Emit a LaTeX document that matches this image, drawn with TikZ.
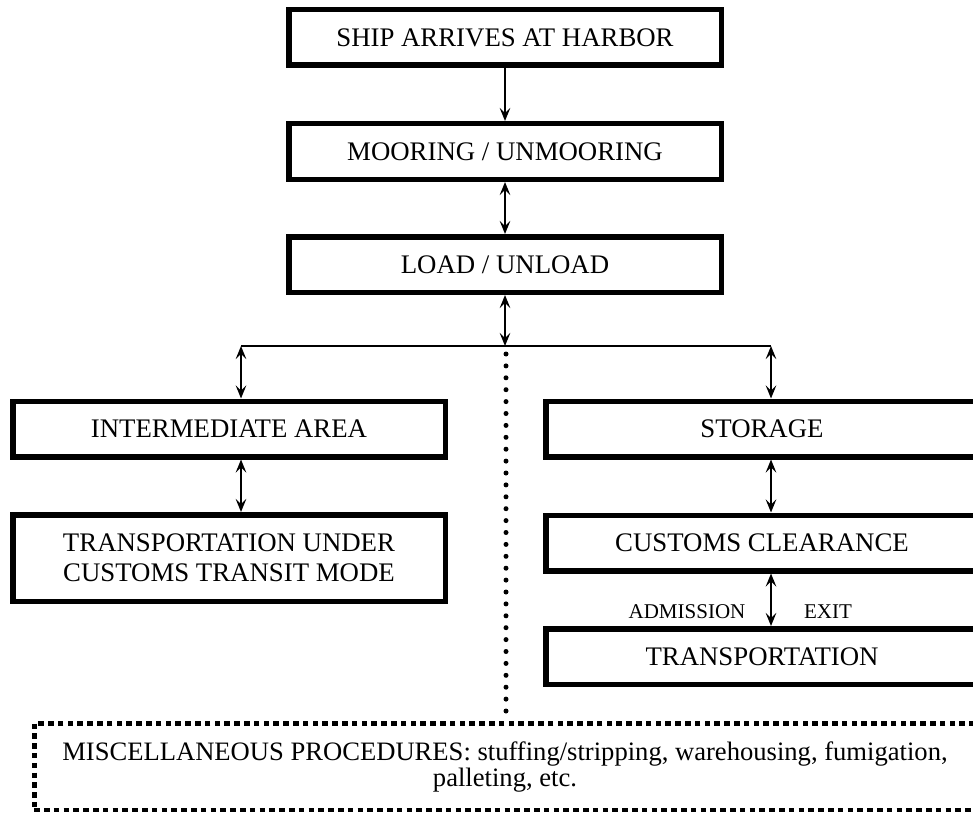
\documentclass[tikz,border=0pt]{standalone}
\usepackage{fontspec}
\setmainfont{Liberation Serif}
\usetikzlibrary{arrows.meta,calc}
\tikzset{tip/.tip={Stealth[length=13pt,width=10.5pt,inset=5pt]}}
\begin{document}
\begin{tikzpicture}[x=1pt,y=-1pt,
  box/.style={draw,line width=5.5pt,minimum width=432.5pt,minimum height=55.5pt,inner sep=0pt,align=center,font=\fontsize{26.8}{30}\selectfont},
  conn/.style={line width=2.8pt,arrows={tip-tip}},
  oneway/.style={line width=2.8pt,arrows={-tip}},
  lbl/.style={font=\fontsize{21}{24}\selectfont,inner sep=0pt}]
\useasboundingbox (0,0) rectangle (973,813);
\clip (0,0) rectangle (973,813);
\node[box] (ship) at (505,37.5) {SHIP ARRIVES AT HARBOR};
\node[box] (moor) at (505,151.5) {MOORING / UNMOORING};
\node[box] (load) at (505,264.5) {LOAD / UNLOAD};
\node[box] (inter) at (229,429) {INTERMEDIATE AREA};
\node[box,minimum height=86.5pt] (trans) at (229,558) {TRANSPORTATION UNDER\\CUSTOMS TRANSIT MODE};
\node[box] (stor) at (762,429) {STORAGE};
\node[box] (cust) at (762,543) {CUSTOMS CLEARANCE};
\node[box] (tport) at (762,656.5) {TRANSPORTATION};
\node[draw,line width=4.5pt,dash pattern=on 5.5pt off 4.3pt,minimum width=941.5pt,minimum height=86.5pt,inner sep=0pt,align=center,font=\fontsize{26.6}{26}\selectfont] (misc) at (505,766.5)
  {MISCELLANEOUS PROCEDURES: stuffing/stripping, warehousing, fumigation,\\palleting, etc.};
\coordinate (h1) at (241,346);
\coordinate (hm) at (505,346);
\coordinate (h2) at (771,346);
\coordinate (d1) at (506,354);
\draw[line width=2pt] (h1) -- (h2);
\draw[oneway] (ship.south) -- (moor.north);
\draw[conn] (moor.south) -- (load.north);
\draw[conn] (load.south) -- (hm);
\draw[conn] (h1) -- (h1 |- inter.north);
\draw[conn] (h1 |- inter.south) -- (h1 |- trans.north);
\draw[conn] (h2) -- (h2 |- stor.north);
\draw[conn] (h2 |- stor.south) -- (h2 |- cust.north);
\draw[conn] (h2 |- cust.south) -- (h2 |- tport.north);
\draw[line width=5pt,line cap=round,dash pattern=on 0pt off 11.9pt] (d1) -- ($(d1 |- misc.north)+(0,-10)$);
\node[lbl] (adm) at (687,612) {ADMISSION};
\node[lbl] (exit) at (828,612) {EXIT};
\end{tikzpicture}
\end{document}
